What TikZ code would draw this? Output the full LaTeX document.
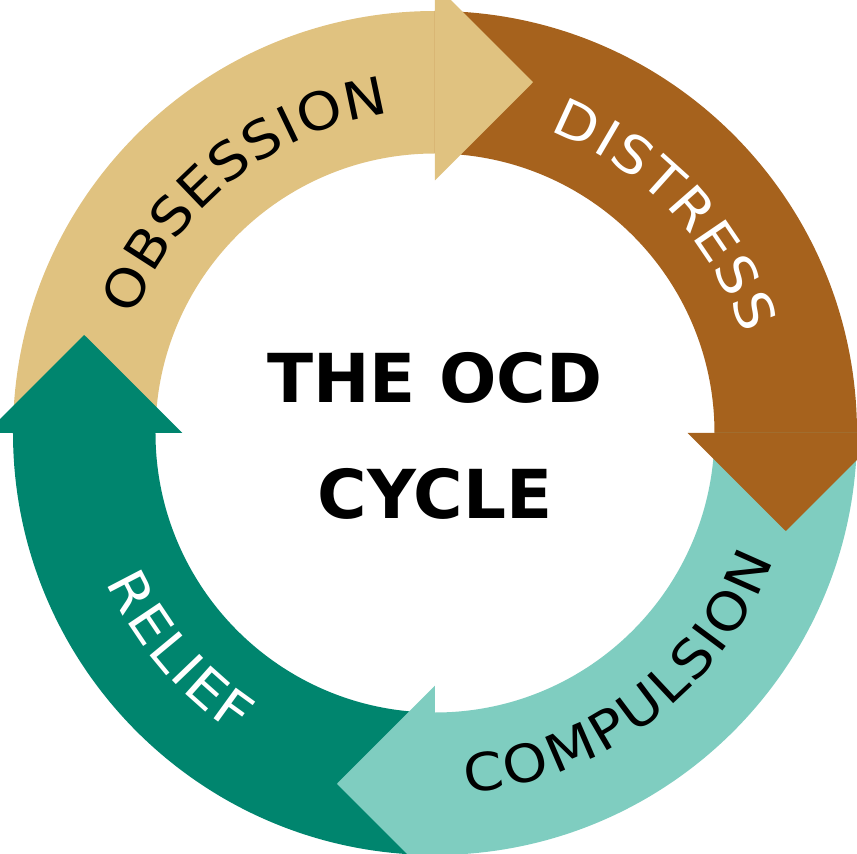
\documentclass[tikz,border=0pt]{standalone}
\usepackage{fontspec}
\setmainfont{DejaVu Sans}
\newfontfamily\wordfam[FakeStretch=1.1]{DejaVu Sans}
\definecolor{obscol}{HTML}{E0C280}
\definecolor{discol}{HTML}{A6621D}
\definecolor{comcol}{HTML}{7FCDC0}
\definecolor{relcol}{HTML}{00856E}
\newcommand\letterfont{\wordfam\fontsize{52}{60}\selectfont}
\newcommand\titlefont{\fontsize{67.5}{80}\selectfont\bfseries}
% #1 name prefix, #2 letters, #3 mid angle, #4 dir (+1 ccw, -1 cw),
% #5 angular span between first and last letter centres, #6 baseline radius, #7 style
\newcommand\arcword[7]{%
  \gdef\awtot{0}%
  \foreach \ch [count=\k] in {#2}{%
    \pgfmathsetmacro\aww{width("\ch")}%
    \ifnum\k=1 \xdef\awfirst{\aww}\fi
    \xdef\awlast{\aww}%
    \xdef\awn{\k}%
    \pgfmathsetmacro\awt{\awtot+\aww}%
    \xdef\awtot{\awt}%
  }%
  \pgfmathsetmacro\awL{#5*pi/180*342}%
  \pgfmathsetmacro\awtrack{(\awL-(\awtot-\awfirst/2-\awlast/2))/(\awn-1)}%
  \xdef\awtrack{\awtrack}%
  \gdef\awcur{0}%
  \foreach \ch [count=\k] in {#2}{%
    \pgfmathsetmacro\aww{width("\ch")}%
    \pgfmathsetmacro\awpos{\awcur+\aww/2-\awfirst/2}%
    \pgfmathsetmacro\awang{#3-#4*#5/2+#4*\awpos/342*180/pi}%
    \pgfmathsetmacro\awrot{\awang+#4*90}%
    \node[#7, rotate=\awrot] (#1\k) at (\awang:#6pt) {\ch};
    \pgfmathsetmacro\awc{\awcur+\aww+\awtrack}%
    \xdef\awcur{\awc}%
  }%
}
\tikzset{
  letter/.style={anchor=base, inner sep=0pt, outer sep=0pt, font=\letterfont},
  titletext/.style={anchor=base, inner sep=0pt, font=\titlefont, text=black},
}
\begin{document}
\begin{tikzpicture}[x=1pt,y=1pt]
\useasboundingbox (-435,-421) rectangle (422,433);
\clip (-435,-421) rectangle (422,433);
% ring bodies
\fill[obscol] (90:422pt) arc[start angle=90, end angle=180, radius=422pt] -- (180:279.5pt) arc[start angle=180, end angle=90, radius=279.5pt] -- cycle;
\fill[discol] (0:422pt) arc[start angle=0, end angle=90, radius=422pt] -- (90:279.5pt) arc[start angle=90, end angle=0, radius=279.5pt] -- cycle;
\fill[comcol] (270:422pt) arc[start angle=270, end angle=360, radius=422pt] -- (0:279.5pt) arc[start angle=360, end angle=270, radius=279.5pt] -- cycle;
\fill[relcol] (180:422pt) arc[start angle=180, end angle=270, radius=422pt] -- (270:279.5pt) arc[start angle=270, end angle=180, radius=279.5pt] -- cycle;
% arrow heads
\fill[obscol] (0,252.5) -- (0,449) -- (98,350.75) -- cycle;
\fill[discol] (252.5,0) -- (449,0) -- (350.75,-98) -- cycle;
\fill[comcol] (0,-252.5) -- (0,-449) -- (-98,-350.75) -- cycle;
\fill[relcol] (-252.5,0) -- (-449,0) -- (-350.75,98) -- cycle;
% curved labels
{\letterfont
\arcword{obs}{O,B,S,E,S,S,I,O,N}{128.4}{-1}{52.9}{323}{letter, text=black}
\arcword{dis}{D,I,S,T,R,E,S,S}{43.1}{-1}{44.4}{323}{letter, text=white}
\arcword{com}{C,O,M,P,U,L,S,I,O,N}{307.1}{1}{57.8}{361}{letter, text=black}
\arcword{rel}{R,E,L,I,E,F}{220.8}{1}{26.6}{361}{letter, text=white}
}
% title
\node[titletext] (t1) at (0,30) {THE OCD};
\node[titletext] (t2) at (0,-85) {CYCLE};
\end{tikzpicture}
\end{document}
